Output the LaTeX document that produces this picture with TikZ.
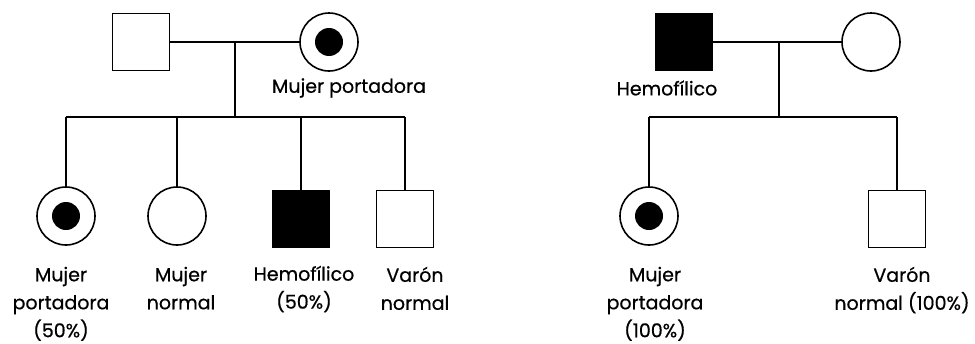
\documentclass[tikz,border=0pt]{standalone}
\usepackage{fontspec}
\setmainfont[FakeBold=0.6]{Poppins}
\usepackage{tikz}
\usetikzlibrary{calc}

\begin{document}
\begin{tikzpicture}[x=1pt,y=-1pt,line width=1.6pt,
  varon/.style={draw,minimum size=57pt,inner sep=0pt},
  hemofilico/.style={varon,fill=black},
  mujer/.style={draw,circle,minimum size=58pt,inner sep=0pt},
  portadora/.style={mujer,path picture={\fill (path picture bounding box.center) circle (14pt);}},
  rotulo/.style={align=center,inner sep=0pt,font=\fontsize{19}{28}\selectfont}]
  \useasboundingbox (0,0) rectangle (975,343);

  % primera familia: padre sano, madre portadora
  \node[varon] (padreA) at (141,42) {};
  \node[portadora] (madreA) at (329,42) {};
  \node[rotulo] (rotMadreA) at (349,88) {Mujer portadora};
  \coordinate (uA) at (235,43);
  \coordinate (hA) at (235,117);
  \draw (padreA.east) -- (madreA.west);
  \draw (uA) -- (hA);
  \coordinate (hA1) at (66,117);
  \coordinate (hA2) at (177,117);
  \coordinate (hA3) at (301,117);
  \coordinate (hA4) at (405,117);
  \draw (hA1) -- (hA4);
  \node[portadora] (hijaA1) at (66,216) {};
  \node[mujer] (hijaA2) at (177,216) {};
  \node[hemofilico] (hijoA3) at (301,219) {};
  \node[varon] (hijoA4) at (405,219) {};
  \draw (hA1) -- (hijaA1.north);
  \draw (hA2) -- (hijaA2.north);
  \draw (hA3) -- (hijoA3.north);
  \draw (hA4) -- (hijoA4.north);
  \node[rotulo,anchor=north] (rotA1) at (61,266) {Mujer\\portadora\\(50\%)};
  \node[rotulo,anchor=north] (rotA2) at (181,266) {Mujer\\normal};
  \node[rotulo,anchor=north] (rotA3) at (304,265) {Hemofílico\\(50\%)};
  \node[rotulo,anchor=north] (rotA4) at (415,266) {Varón\\normal};

  % segunda familia: padre hemofílico, madre sana
  \node[hemofilico] (padreB) at (684,42) {};
  \node[mujer] (madreB) at (871,42) {};
  \node[rotulo] (rotPadreB) at (667,88) {Hemofílico};
  \coordinate (uB) at (779,43);
  \coordinate (hB) at (779,117);
  \draw (padreB.east) -- (madreB.west);
  \draw (uB) -- (hB);
  \coordinate (hB1) at (649,117);
  \coordinate (hB2) at (897,117);
  \draw (hB1) -- (hB2);
  \node[portadora] (hijaB1) at (649,216) {};
  \node[varon] (hijoB2) at (897,219) {};
  \draw (hB1) -- (hijaB1.north);
  \draw (hB2) -- (hijoB2.north);
  \node[rotulo,anchor=north] (rotB1) at (655,266) {Mujer\\portadora\\(100\%)};
  \node[rotulo,anchor=north] (rotB2) at (902,266) {Varón\\normal (100\%)};
\end{tikzpicture}
\end{document}
